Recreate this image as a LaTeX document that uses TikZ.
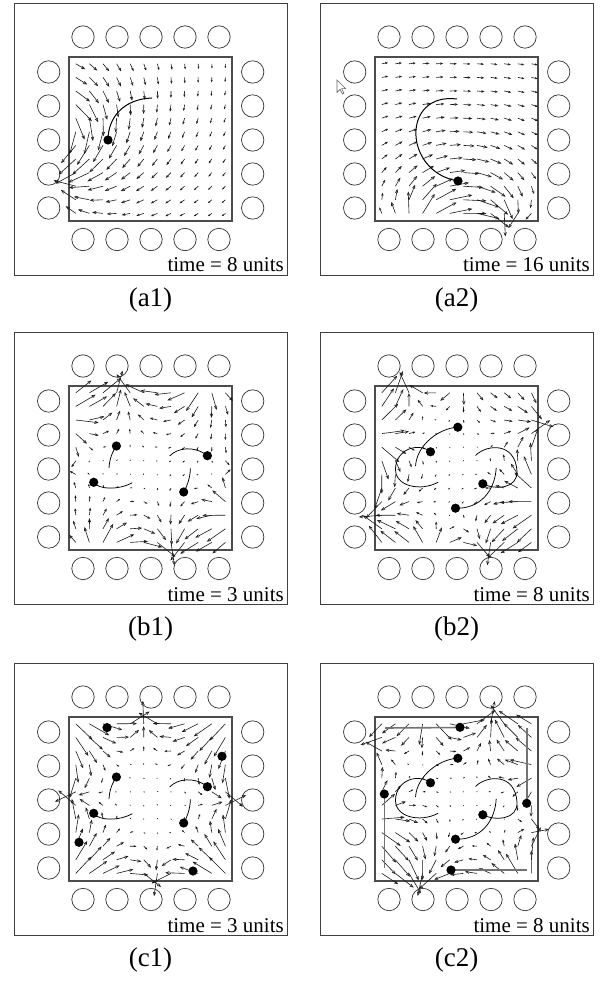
\documentclass[tikz,border=0pt]{standalone}
\usepackage{fontspec}
\setmainfont{Liberation Serif}
\usetikzlibrary{arrows.meta}
\tikzset{
  panelbox/.style={draw=black!75, line width=0.9pt},
  innersq/.style={draw=black!70, line width=1.2pt},
  electrode/.style={draw=black!80, line width=0.7pt},
  particle/.style={fill=black},
  traj/.style={draw=black, line width=0.75pt},
  gline/.style={draw=black!55, line width=1.6pt},
  qarrow/.style={draw=black!90, line width=0.6pt},
  timelbl/.style={anchor=base east, inner sep=0pt, font=\fontsize{21}{24}\selectfont},
  caplbl/.style={anchor=base, inner sep=0pt, font=\fontsize{27}{30}\selectfont},
}
\newcommand\panelframe[5]{%
 \begin{scope}[shift={(#1,#2)}]
  \draw[panelbox] (0,0) rectangle (273,272);
  \draw[innersq] (55,54) rectangle (218,218);
  \foreach \k in {0,...,4}{
   \pgfmathsetmacro\qc{69+34*\k}
   \draw[electrode] (\qc,34) circle[radius=11.2pt];
   \draw[electrode] (\qc,236.5) circle[radius=11.2pt];
   \draw[electrode] (34.7,\qc) circle[radius=11.2pt];
   \draw[electrode] (238.7,\qc) circle[radius=11.2pt];
  }
  \node[timelbl] (time#3) at (270,269) {#5};
  \node[caplbl] (cap#3) at (136.5,303) {#4};
 \end{scope}
}
% #1,#2 uniform part, #3 terms cx/cy/source/vortex/power, #4 gain
\newcommand\vfield[4]{%
 \foreach \i in {0,...,11}{%
  \foreach \j in {0,...,11}{%
   \pgfmathsetmacro\qpx{0.68+1.36*\i}%
   \pgfmathsetmacro\qpy{0.68+1.36*\j}%
   \xdef\qvx{#1}\xdef\qvy{#2}%
   \foreach \qcx/\qcy/\qa/\qb/\qp in {#3}{%
     \pgfmathsetmacro\qdx{(\qpx)-(\qcx)}%
     \pgfmathsetmacro\qdy{(\qpy)-(\qcy)}%
     \pgfmathsetmacro\qden{((\qdx)*(\qdx)+(\qdy)*(\qdy)+0.5)^((\qp)/2)}%
     \pgfmathsetmacro\qnx{(\qvx)+((\qa)*(\qdx)-(\qb)*(\qdy))/(\qden)}%
     \pgfmathsetmacro\qny{(\qvy)+((\qa)*(\qdy)+(\qb)*(\qdx))/(\qden)}%
     \xdef\qvx{\qnx}\xdef\qvy{\qny}%
   }%
   \pgfmathsetmacro\qvx{(\qvx)*(#4)}%
   \pgfmathsetmacro\qvy{(\qvy)*(#4)}%
   \pgfmathsetmacro\qL{sqrt((\qvx)*(\qvx)+(\qvy)*(\qvy))}%
   \pgfmathsetmacro\qs{min(1,2.3/max(\qL,0.001))}%
   \pgfmathsetmacro\qex{\qpx+(\qvx)*\qs}%
   \pgfmathsetmacro\qey{\qpy+(\qvy)*\qs}%
   \pgfmathsetmacro\qhl{max(0.3,min(3.2,3*\qL*\qs))}%
   \pgfmathsetmacro\qhw{0.8*\qhl}%
   \draw[qarrow,-{Straight Barb[length=\qhl pt,width=\qhw pt]}] (\qpx,\qpy) -- (\qex,\qey);%
  }%
 }%
}
\begin{document}
\begin{tikzpicture}[x=1pt,y=-1pt]
\useasboundingbox (0,0) rectangle (611,981);
\fill[white] (0,0) rectangle (611,981);

% ---------- frames ----------
\panelframe{14}{3}{A1}{(a1)}{time = 8 units}
\panelframe{320}{3}{A2}{(a2)}{time = 16 units}
\panelframe{14}{332}{B1}{(b1)}{time = 3 units}
\panelframe{320}{332}{B2}{(b2)}{time = 8 units}
\panelframe{14}{663}{C1}{(c1)}{time = 3 units}
\panelframe{320}{663}{C2}{(c2)}{time = 8 units}

% ---------- a1 ----------
\begin{scope}[shift={(69,57)},x=10pt,y=-10pt]
 \vfield{0}{0}{-1/7/0/6/2, -0.4/12.3/-3/0/2}{1.1}
 \draw[traj, line width=1pt] (8.3,4.1) .. controls (5.5,4.2) and (3.9,6.0) .. (3.9,8.3);
 \fill[particle] (3.9,8.3) circle[radius=4.6pt];
\end{scope}

% ---------- a2 ----------
\begin{scope}[shift={(375,57)},x=10pt,y=-10pt]
 \vfield{0.4}{0}{4.5/17.6/5/0/2, 12.5/17.0/-5/0/2}{1.3}
 \draw[traj, line width=1pt] (8.2,4.2) .. controls (2.6,3.5) and (2.8,11.5) .. (8.3,12.4);
 \fill[particle] (8.3,12.4) circle[radius=4.6pt];
\end{scope}
% cursor
\draw[black!60, line width=0.6pt, fill=white] (337,80) -- (337,92.4) -- (340.1,89.3) -- (342.4,94) -- (344,93.2) -- (341.7,88.6) -- (345.6,88.6) -- cycle;

% ---------- b1 ----------
\begin{scope}[shift={(69,386)},x=10pt,y=-10pt]
 \vfield{0}{0}{5.1/-0.8/-3/0/2, 10.4/17.2/-3/0/2, -0.8/3/2/0/2, 3/17.2/2/0/2, 13.5/-0.8/2/0/2, 17.1/13/2/0/2, -0.8/8.2/-1/0/2, 17.1/8.5/-1/0/2}{1.9}
 \draw[traj] (4.0,8.2) .. controls (4.05,7.2) and (4.4,6.5) .. (4.74,6.0);
 \draw[traj] (2.47,9.63) .. controls (3.0,10.4) and (5.0,10.4) .. (6.33,9.67);
 \draw[traj] (10.07,7.0) .. controls (10.8,6.2) and (12.5,5.9) .. (13.84,6.97);
 \draw[traj] (12.14,8.23) .. controls (12.1,9.3) and (11.8,10.0) .. (11.47,10.6);
 \foreach \p in {(4.74,6.0),(2.47,9.63),(13.84,6.97),(11.47,10.6)}
   \fill[particle] \p circle[radius=4.6pt];
\end{scope}

% ---------- b2 ----------
\begin{scope}[shift={(375,386)},x=10pt,y=-10pt]
 \vfield{0}{0}{2.5/-1/-3/0/2, 17.2/4/-3/0/2, -1/13/-4/0/2, 11.5/17.2/-3/0/2, -1/5/3/0/2, 17.2/11.5/3/0/2, 8.5/-1/1.5/0/2, 5.5/17.3/2/0/2}{1.7}
 \draw[traj] (4.05,8.0) .. controls (4.2,5.8) and (6.5,4.2) .. (8.28,4.12);
 \draw[traj] (6.32,9.62) .. controls (4.5,10.6) and (2.0,10.0) .. (2.05,8.3) .. controls (2.1,6.3) and (4.3,5.6) .. (5.55,6.58);
 \draw[traj] (10.05,6.95) .. controls (11.2,5.8) and (14.0,5.6) .. (14.2,8.5) .. controls (14.3,10.3) and (12.0,10.4) .. (10.78,9.78);
 \draw[traj] (12.12,8.18) .. controls (12.0,10.5) and (10.5,12.3) .. (8.05,12.22);
 \foreach \p in {(8.28,4.12),(5.55,6.58),(10.78,9.78),(8.05,12.22)}
   \fill[particle] \p circle[radius=4.6pt];
\end{scope}

% ---------- c1 ----------
\begin{scope}[shift={(69,717)},x=10pt,y=-10pt]
 \vfield{0}{0}{7.4/-0.8/-3/0/2, 8.7/17.2/-3/0/2, -0.8/8.0/-3/0/2, 17.1/8.3/-3/0/2, -1/-1/2.5/0/2, 17.3/-1/2.5/0/2, -1/17.4/2.5/0/2, 17.3/17.4/2.5/0/2}{2.0}
 \draw[traj] (4.0,8.2) .. controls (4.05,7.2) and (4.4,6.5) .. (4.74,6.0);
 \draw[traj] (2.47,9.63) .. controls (3.0,10.4) and (5.0,10.4) .. (6.33,9.67);
 \draw[traj] (10.07,7.0) .. controls (10.8,6.2) and (12.5,5.9) .. (13.84,6.97);
 \draw[traj] (12.14,8.23) .. controls (12.1,9.3) and (11.8,10.0) .. (11.47,10.6);
 \foreach \p in {(4.74,6.0),(2.47,9.63),(13.84,6.97),(11.47,10.6),(3.8,1.06),(15.3,3.93),(1.0,12.53),(12.4,15.4)}
   \fill[particle] \p circle[radius=4.6pt];
\end{scope}

% ---------- c2 ----------
\begin{scope}[shift={(375,717)},x=10pt,y=-10pt]
 \vfield{0}{0}{11.8/-0.9/-4/0/2, 4.3/17.3/-4/0/2, -0.9/2.5/-2.5/0/2, 17.2/11.6/-2.5/0/2, 5.2/-0.9/2.5/0/2, -0.9/10.5/2.5/0/2, 15.5/17.3/2.5/0/2, 17.2/5/2/0/2}{1.7}
 \draw[gline] (1.0,1.1) -- (8.5,1.05);
 \draw[gline] (15.17,1.13) -- (15.17,8.63);
 \draw[gline] (0.93,7.7) -- (0.93,15.13);
 \draw[gline] (7.6,15.3) -- (15.17,15.3);
 \draw[traj] (4.05,8.0) .. controls (4.2,5.8) and (6.5,4.2) .. (8.28,4.12);
 \draw[traj] (6.32,9.62) .. controls (4.5,10.6) and (2.0,10.0) .. (2.05,8.3) .. controls (2.1,6.3) and (4.3,5.6) .. (5.55,6.58);
 \draw[traj] (10.05,6.95) .. controls (11.2,5.8) and (14.0,5.6) .. (14.2,8.5) .. controls (14.3,10.3) and (12.0,10.4) .. (10.78,9.78);
 \draw[traj] (12.12,8.18) .. controls (12.0,10.5) and (10.5,12.3) .. (8.05,12.22);
 \foreach \p in {(8.28,4.12),(5.55,6.58),(10.78,9.78),(8.05,12.22),(8.5,1.03),(0.93,7.7),(15.17,8.63),(7.6,15.3)}
   \fill[particle] \p circle[radius=4.6pt];
\end{scope}
\end{tikzpicture}
\end{document}
